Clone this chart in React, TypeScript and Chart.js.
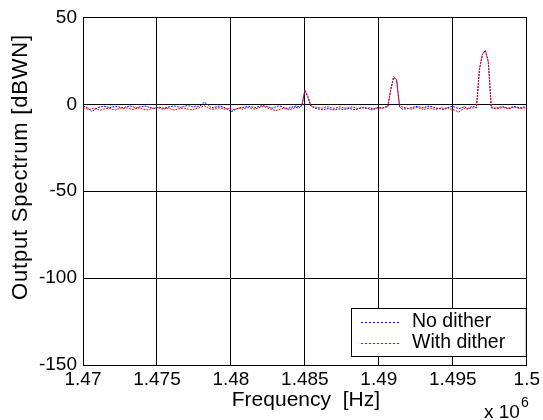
import React, { useEffect, useRef } from "react";
import { Chart, registerables } from "chart.js";

Chart.register(...registerables);

// ---- data ----
const X_TICKS = [1.47, 1.475, 1.48, 1.485, 1.49, 1.495, 1.5];
const X_TICK_LABELS = ["1.47", "1.475", "1.48", "1.485", "1.49", "1.495", "1.5"];
const Y_TICKS = [-150, -100, -50, 0, 50];
const Y_TICK_LABELS = ["-150", "-100", "-50", "0", "50"];
const SERIES_NAMES = ["No dither", "With dither"];
const X_TITLE = "Frequency  [Hz]";
const Y_TITLE = "Output Spectrum [dBWN]";
const X_EXPONENT_BASE = "x 10";
const X_EXPONENT_POWER = "6";

// frequency grid (x 10^6 Hz): 1.4700 ... 1.5000, step 0.0002
const FREQ_START = 1.47;
const FREQ_STEP = 0.0002;

const NO_DITHER = [
  -1.0, -1.5, -2.5, -4.2, -3.0, -2.0, -1.5, -1.0, -1.5, -2.0,
  -1.5, -1.2, -1.5, -2.0, -1.8, -1.2, -1.0, -1.5, -2.0, -1.6,
  -1.3, -1.0, -1.5, -2.0, -2.4, -2.0, -1.8, -2.2, -2.0, -1.5,
  -1.2, -1.0, -1.4, -1.8, -1.2, -0.8, -1.0, -1.5, -1.2, -1.2,
  -0.5, 1.2, 0.0, -1.5, -2.0, -1.5, -1.0, -1.4, -2.0, -3.0,
  -4.3, -3.5, -2.5, -2.0, -1.8, -1.5, -1.2, -1.5, -2.0, -1.5,
  -1.0, -0.8, -1.2, -1.8, -2.2, -1.5, -1.0, -1.2, -2.0, -2.4,
  -2.0, -1.5, -1.0, -1.5, -0.8, 8.0, 4.0, -1.0, -2.0, -2.5,
  -2.8, -3.2, -2.7, -2.5, -3.0, -3.2, -2.8, -2.6, -3.0, -2.7,
  -2.4, -2.8, -3.1, -2.6, -2.2, -2.0, -2.4, -2.0, -2.6, -2.2,
  -1.8, -2.2, -1.6, -1.5, 8.0, 15.5, 14.0, -1.5, -2.8, -2.6,
  -2.4, -2.0, -1.5, -1.2, -1.6, -2.0, -1.5, -1.0, -1.4, -2.0,
  -2.4, -2.6, -3.0, -2.2, -1.5, -1.2, -1.8, -2.5, -2.0, -1.5,
  -2.5, -1.6, -1.2, -2.0, 20.0, 28.5, 31.0, 24.0, -2.0, -2.4,
  -2.0, -1.6, -1.4, -2.0, -2.2, -1.6, -1.3, -1.8, -2.0, -1.6, -1.8,
];

const WITH_DITHER = [
  -2.0, -2.5, -3.0, -2.6, -2.2, -3.0, -3.4, -2.8, -2.4, -2.2,
  -3.0, -3.2, -2.6, -2.2, -2.5, -2.0, -2.6, -3.0, -2.4, -2.1,
  -2.6, -3.0, -3.2, -2.6, -2.2, -1.8, -2.3, -2.8, -2.5, -2.2,
  -3.0, -3.3, -2.7, -2.4, -2.0, -2.5, -3.0, -3.2, -2.5, -2.2,
  -1.5, -0.8, -1.8, -2.6, -3.0, -2.4, -2.0, -2.3, -2.8, -2.5,
  -2.8, -3.0, -2.6, -2.4, -2.8, -2.2, -1.8, -2.4, -2.8, -2.2,
  -1.6, -1.2, -1.8, -2.5, -3.0, -3.6, -3.2, -2.6, -2.2, -2.8,
  -3.0, -2.4, -1.8, -2.2, -0.5, 8.5, 4.5, -0.5, -1.5, -1.8,
  -2.0, -2.2, -1.6, -1.5, -2.0, -2.3, -1.8, -1.4, -2.0, -2.2,
  -1.8, -1.5, -2.0, -2.4, -2.0, -1.6, -2.2, -3.0, -3.2, -2.4,
  -2.0, -2.4, -1.8, -1.2, 8.5, 16.0, 14.0, -1.0, -1.6, -2.0,
  -2.4, -2.8, -2.2, -1.8, -2.4, -3.0, -2.6, -2.0, -2.5, -3.0,
  -2.6, -2.0, -2.4, -2.0, -2.6, -3.0, -3.6, -4.5, -3.2, -2.4,
  -2.8, -2.2, -2.0, -1.8, 20.5, 29.0, 31.0, 24.5, -1.5, -2.0,
  -2.5, -2.2, -1.8, -2.2, -2.6, -2.0, -1.6, -2.2, -2.5, -2.0, -2.4,
];

const FONT = "'Liberation Sans', Arial, Helvetica, sans-serif";
const TICK_SIZE = 19;
const LEGEND_SIZE = 19.5;
const TITLE_SIZE = 21;
const COLORS = ["#0000ff", "#ff0000"];

const toPoints = (vals: number[]) =>
  vals.map((v, i) => ({ x: FREQ_START + i * FREQ_STEP, y: v }));

const overlayPlugin = {
  id: "overlay",
  afterDraw(chart: any) {
    const ctx: any = chart.ctx;
    const a = chart.chartArea;
    ctx.save();
    ctx.fillStyle = "#000";
    ctx.font = `${TITLE_SIZE}px ${FONT}`;
    ctx.textAlign = "center";
    ctx.textBaseline = "middle";
    ctx.fillText(X_TITLE, (a.left + a.right) / 2 + 1, 400);

    ctx.save();
    ctx.translate(21, 167);
    ctx.rotate(-Math.PI / 2);
    ctx.font = `22px ${FONT}`;
    ctx.letterSpacing = "0.8px";
    ctx.fillText(Y_TITLE, 0, 0);
    ctx.restore();

    // exponent
    ctx.textAlign = "left";
    ctx.textBaseline = "alphabetic";
    ctx.font = `${TICK_SIZE}px ${FONT}`;
    ctx.fillText(X_EXPONENT_BASE, 484, 418);
    const w = ctx.measureText(X_EXPONENT_BASE).width;
    ctx.font = `${Math.round(TICK_SIZE * 0.72)}px ${FONT}`;
    ctx.fillText(X_EXPONENT_POWER, 484 + w + 1, 407);

    // legend
    const lx = 351, ly = 308, lw = a.right - 1 - 351, lh = 48;
    ctx.fillStyle = "#fff";
    ctx.fillRect(lx, ly, lw, lh);
    ctx.strokeStyle = "#000";
    ctx.lineWidth = 1;
    ctx.strokeRect(lx + 0.5, ly + 0.5, lw, lh);
    ctx.font = `${LEGEND_SIZE}px ${FONT}`;
    ctx.textBaseline = "middle";
    for (let i = 0; i < SERIES_NAMES.length; i++) {
      const cy = ly + 14 + i * 21;
      ctx.save();
      ctx.strokeStyle = COLORS[i];
      ctx.lineWidth = 1;
      ctx.setLineDash([2, 2]);
      ctx.beginPath();
      ctx.moveTo(361, cy + 0.5);
      ctx.lineTo(399, cy + 0.5);
      ctx.stroke();
      ctx.restore();
      ctx.fillStyle = "#000";
      ctx.fillText(SERIES_NAMES[i], 412, cy);
    }
    ctx.restore();
  },
};

export default function App() {
  const canvasRef = useRef<HTMLCanvasElement | null>(null);

  useEffect(() => {
    if (!canvasRef.current) return;
    const chart = new Chart(canvasRef.current, {
      type: "line",
      data: {
        datasets: [
          {
            label: SERIES_NAMES[0],
            data: toPoints(NO_DITHER),
            borderColor: COLORS[0],
            borderWidth: 1,
            borderDash: [2, 1],
            pointRadius: 0,
            tension: 0,
            fill: false,
            order: 1,
          },
          {
            label: SERIES_NAMES[1],
            data: toPoints(WITH_DITHER),
            borderColor: COLORS[1],
            borderWidth: 1,
            borderDash: [2, 1],
            pointRadius: 0,
            tension: 0,
            fill: false,
            order: 0,
          },
        ],
      },
      options: {
        responsive: false,
        maintainAspectRatio: false,
        animation: false,
        devicePixelRatio: 1,
        layout: { padding: { left: 0, top: 15, right: 15, bottom: 0 } },
        plugins: {
          legend: { display: false },
          tooltip: { enabled: false },
        },
        scales: {
          x: {
            type: "linear",
            min: 1.47,
            max: 1.5,
            afterBuildTicks: (s: any) => {
              s.ticks = X_TICKS.map((v) => ({ value: v }));
            },
            afterFit: (s: any) => {
              s.height = 55;
            },
            ticks: {
              color: "#000",
              font: { family: FONT, size: TICK_SIZE },
              padding: 3,
              maxRotation: 0,
              autoSkip: false,
              callback: (v: any) => {
                const i = X_TICKS.findIndex((t) => Math.abs(t - v) < 1e-9);
                return i >= 0 ? X_TICK_LABELS[i] : "";
              },
            },
            grid: { color: "#000", lineWidth: 1, drawTicks: false },
            border: { display: true, color: "#000", width: 1 },
          },
          y: {
            type: "linear",
            min: -150,
            max: 50,
            afterBuildTicks: (s: any) => {
              s.ticks = Y_TICKS.map((v) => ({ value: v }));
            },
            afterFit: (s: any) => {
              s.width = 83;
            },
            ticks: {
              color: "#000",
              font: { family: FONT, size: TICK_SIZE },
              padding: 6,
              callback: (v: any) => {
                const i = Y_TICKS.indexOf(v);
                return i >= 0 ? Y_TICK_LABELS[i] : "";
              },
            },
            grid: { color: "#000", lineWidth: 1, drawTicks: false },
            border: { display: true, color: "#000", width: 1 },
          },
        },
      },
      plugins: [overlayPlugin],
    });
    return () => chart.destroy();
  }, []);

  return (
    <div style={{ position: "fixed", left: 0, top: 0, width: 543, height: 420, background: "#fff" }}>
      <canvas ref={canvasRef} width={543} height={420} style={{ width: 543, height: 420, display: "block" }} />
    </div>
  );
}
